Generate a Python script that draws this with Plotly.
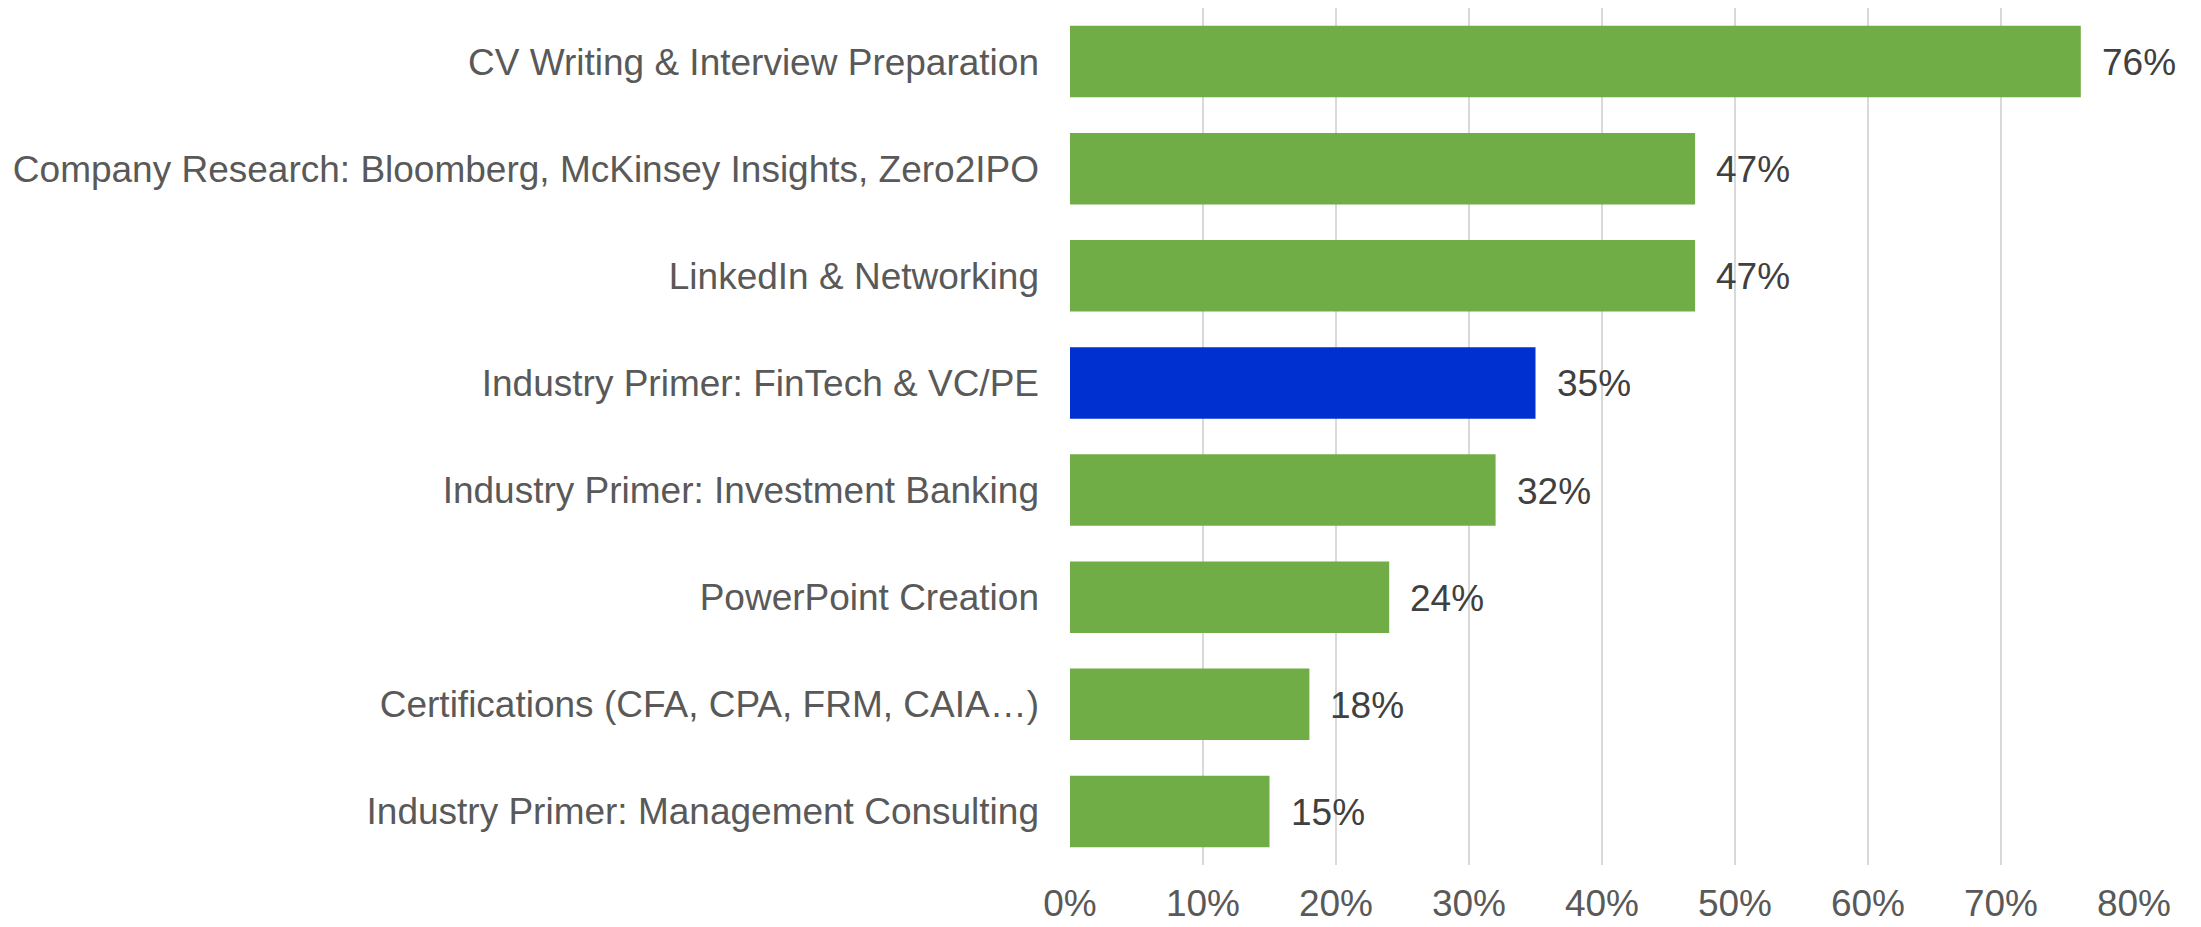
import plotly.graph_objects as go

categories = [
    "CV Writing & Interview Preparation",
    "Company Research: Bloomberg, McKinsey Insights, Zero2IPO",
    "LinkedIn & Networking",
    "Industry Primer: FinTech & VC/PE",
    "Industry Primer: Investment Banking",
    "PowerPoint Creation",
    "Certifications (CFA, CPA, FRM, CAIA…)",
    "Industry Primer: Management Consulting",
]
values = [0.76, 0.47, 0.47, 0.35, 0.32, 0.24, 0.18, 0.15]
highlight = "Industry Primer: FinTech & VC/PE"
tick_vals = [0, 0.1, 0.2, 0.3, 0.4, 0.5, 0.6, 0.7, 0.8]
tick_text = ["0%", "10%", "20%", "30%", "40%", "50%", "60%", "70%", "80%"]

GREEN = "#70AD47"
BLUE = "#0030D0"
colors = [BLUE if c == highlight else GREEN for c in categories]

FONT = "Liberation Sans, Arial"
SIZE = 37

fig = go.Figure()
fig.add_trace(go.Bar(
    x=values, y=categories, orientation="h",
    marker=dict(color=colors, line=dict(width=0)),
    hoverinfo="skip",
))

for c, v in zip(categories, values):
    fig.add_annotation(
        x=v, y=c, text=f"{round(v*100)}%", showarrow=False,
        xanchor="left", yanchor="middle", xshift=19, yshift=-1,
        font=dict(family=FONT, size=SIZE, color="#404040"),
    )

fig.update_layout(
    width=2193, height=919,
    margin=dict(l=1062, r=67, t=0, b=62),
    paper_bgcolor="white", plot_bgcolor="rgba(0,0,0,0)",
    bargap=0.333,
    showlegend=False,
    font=dict(family=FONT, size=SIZE, color="#595959"),
)
fig.update_xaxes(
    range=[0, 0.8], tickvals=tick_vals, ticktext=tick_text,
    showgrid=True, gridcolor="#D9D9D9", gridwidth=2,
    zeroline=False, showline=False, ticks="",
    ticklabelstandoff=13, automargin=False,
    tickfont=dict(family=FONT, size=SIZE, color="#595959"),
)
fig.update_yaxes(
    autorange="reversed", showgrid=False, zeroline=False, showline=False,
    ticks="", ticklabelstandoff=30, automargin=False,
    tickfont=dict(family=FONT, size=SIZE, color="#595959"),
)

fig.write_html("out.html")
